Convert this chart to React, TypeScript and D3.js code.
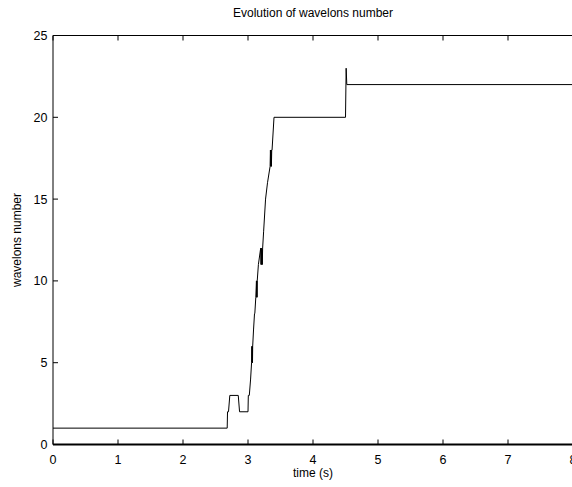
import React from "react";
import * as d3 from "d3";

const times: number[] = [
  0, 2.68, 2.685, 2.70, 2.72, 2.85, 2.87, 3.00, 3.005, 3.02, 3.04, 3.055, 3.06, 3.063, 3.066, 3.069, 3.072,
  3.085, 3.10, 3.105, 3.12, 3.13, 3.133, 3.136, 3.139, 3.142, 3.16, 3.195, 3.20, 3.205, 3.21, 3.215, 3.22, 3.225,
  3.24, 3.27, 3.30, 3.34, 3.345, 3.35, 3.355, 3.36, 3.365, 3.37, 3.40, 4.50, 4.51, 4.52, 8,
];
const values: number[] = [
  1, 1, 2, 2, 3, 3, 2, 2, 3, 3, 4, 5, 6, 5, 6, 5, 6,
  7, 8, 8, 9, 10, 9, 10, 9, 10, 11, 12, 11, 12, 11, 12, 11, 12,
  13, 15, 16, 17, 18, 17, 18, 17, 18, 18, 20, 20, 23, 22, 22,
];
const xTicks: number[] = [0, 1, 2, 3, 4, 5, 6, 7, 8];
const yTicks: number[] = [0, 5, 10, 15, 20, 25];
const title = "Evolution of wavelons number";
const xLabel = "time (s)";
const yLabel = "wavelons number";

export default function App() {
  const W = 572, H = 487;
  const left = 53, right = 573, top = 35.5, bottom = 444.5;
  const x = d3.scaleLinear().domain([0, 8]).range([left, right]);
  const y = d3.scaleLinear().domain([0, 25]).range([bottom, top]);
  const pts = times.map((t, i) => [t, values[i]] as [number, number]);
  const line = d3.line<[number, number]>().x((d) => x(d[0])).y((d) => y(d[1]));
  const font = "'Liberation Sans', Arial, sans-serif";
  const tl = 5;
  return (
    <svg width={W} height={H} style={{ position: "fixed", left: 0, top: 0, background: "#fff" }} fontFamily={font}>
      <rect x={0} y={0} width={W} height={H} fill="#fff" />
      <path d={line(pts) || ""} fill="none" stroke="#000" strokeWidth={1} />
      <line x1={left} x2={right + 2} y1={top} y2={top} stroke="#000" strokeWidth={1} />
      <line x1={left} x2={left} y1={top} y2={bottom} stroke="#000" strokeWidth={1} />
      <line x1={left} x2={right + 2} y1={bottom} y2={bottom} stroke="#000" strokeWidth={2} />
      <line x1={right} x2={right} y1={top} y2={bottom} stroke="#000" strokeWidth={1} />
      {xTicks.map((t) => (
        <g key={"x" + t}>
          <line x1={x(t)} x2={x(t)} y1={bottom} y2={bottom - tl} stroke="#000" />
          <line x1={x(t)} x2={x(t)} y1={top} y2={top + tl} stroke="#000" />
          <text x={x(t)} y={bottom + 19.5} fontSize={12.5} textAnchor="middle">{t}</text>
        </g>
      ))}
      {yTicks.map((t) => (
        <g key={"y" + t}>
          <line x1={left} x2={left + tl} y1={y(t)} y2={y(t)} stroke="#000" />
          <text x={left - 5.5} y={y(t) + 4.5} fontSize={12.5} textAnchor="end">{t}</text>
        </g>
      ))}
      <text x={(left + right) / 2} y={17} fontSize={12} textAnchor="middle">{title}</text>
      <text x={(left + right) / 2} y={477} fontSize={12} textAnchor="middle">{xLabel}</text>
      <text transform={`translate(21,${(top + bottom) / 2}) rotate(-90)`} fontSize={12} textAnchor="middle">{yLabel}</text>
    </svg>
  );
}
